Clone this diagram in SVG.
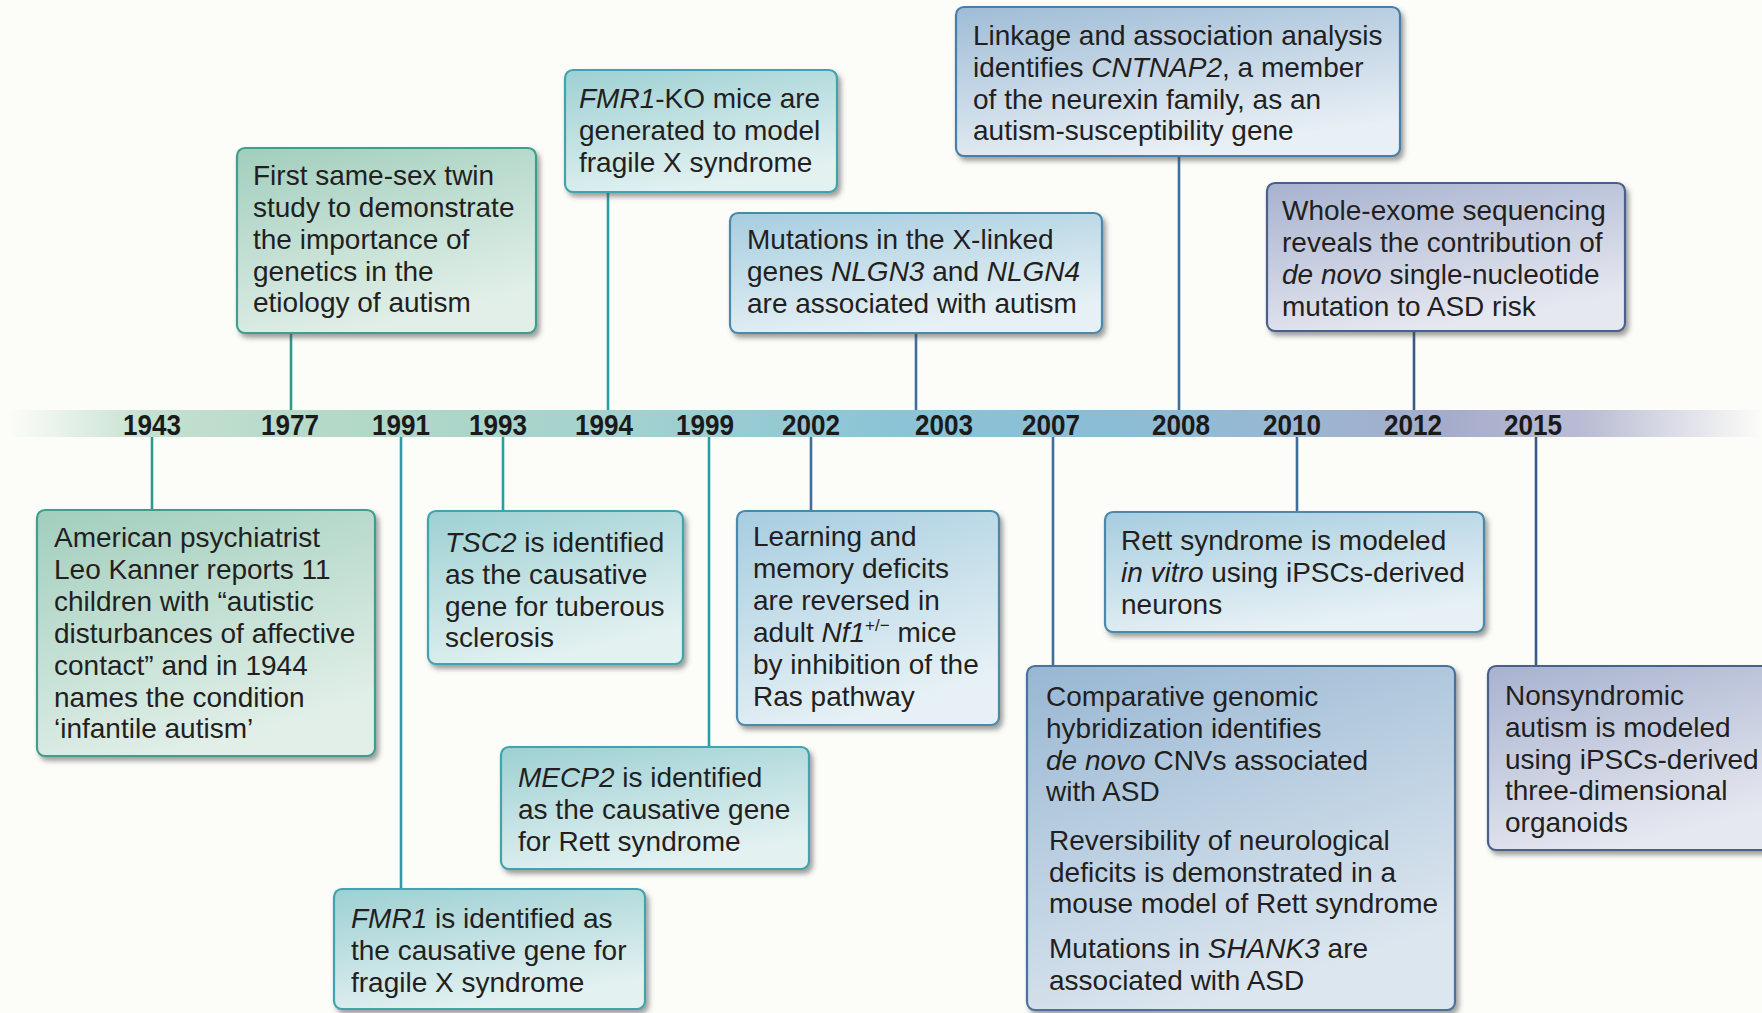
<svg xmlns="http://www.w3.org/2000/svg" width="1762" height="1013" viewBox="0 0 1762 1013">
<defs>
<style>
.t{font-family:"Liberation Sans",Arial,Helvetica,sans-serif;font-size:28px;fill:#231f20}
.i{font-style:italic}
.yr{font-family:"Liberation Sans",Arial,Helvetica,sans-serif;font-size:30px;font-weight:bold;fill:#1a1a1a;text-anchor:middle}
.box{stroke-width:2.2}
.cG{stroke:#2f9a8e;stroke-width:2.6;fill:none}
.cT{stroke:#2a9ea6;stroke-width:2.6;fill:none}
.cB{stroke:#3e6f9a;stroke-width:2.6;fill:none}
.cP{stroke:#3b5a88;stroke-width:2.6;fill:none}
.g{fill:url(#gG);stroke:#3c9f8c}
.tl{fill:url(#gT);stroke:#3fa3ad}
.lb{fill:url(#gL);stroke:#4b88aa}
.mb{fill:url(#gM);stroke:#4a7ea6}
.db{fill:url(#gD);stroke:#47739e}
.pu{fill:url(#gP);stroke:#4a5e8c}
</style>
<filter id="sh" x="-10%" y="-10%" width="125%" height="130%">
<feDropShadow dx="3" dy="4" stdDeviation="2.5" flood-color="#404040" flood-opacity="0.5"/>
</filter>
<linearGradient id="gG" x1="0" y1="0" x2="0.4" y2="1"><stop offset="0" stop-color="#a1cebd"/><stop offset="1" stop-color="#e1efe8"/></linearGradient>
<linearGradient id="gT" x1="0" y1="0" x2="0.4" y2="1"><stop offset="0" stop-color="#9dd0d3"/><stop offset="1" stop-color="#e3f1f1"/></linearGradient>
<linearGradient id="gL" x1="0" y1="0" x2="0.4" y2="1"><stop offset="0" stop-color="#a6cde0"/><stop offset="1" stop-color="#e7f1f5"/></linearGradient>
<linearGradient id="gM" x1="0" y1="0" x2="0.4" y2="1"><stop offset="0" stop-color="#9fbcd6"/><stop offset="1" stop-color="#e8eff5"/></linearGradient>
<linearGradient id="gD" x1="0" y1="0" x2="0.4" y2="1"><stop offset="0" stop-color="#98b7d3"/><stop offset="1" stop-color="#dce6ef"/></linearGradient>
<linearGradient id="gP" x1="0" y1="0" x2="0.4" y2="1"><stop offset="0" stop-color="#a7b2cf"/><stop offset="1" stop-color="#e6e8f0"/></linearGradient>
<linearGradient id="bar" x1="0" y1="0" x2="1" y2="0">
<stop offset="0" stop-color="#fcfcf9"/>
<stop offset="0.08" stop-color="#c4e0d0"/>
<stop offset="0.2" stop-color="#b2d8c7"/>
<stop offset="0.35" stop-color="#a3d2cf"/>
<stop offset="0.5" stop-color="#8cc4d6"/>
<stop offset="0.62" stop-color="#8bbdd6"/>
<stop offset="0.72" stop-color="#98b8d2"/>
<stop offset="0.82" stop-color="#a5accb"/>
<stop offset="0.9" stop-color="#babdd4"/>
<stop offset="1" stop-color="#fcfcf9"/>
</linearGradient>
</defs>
<rect x="0" y="0" width="1762" height="1013" fill="#fcfcf9"/>

<g id="timeline">
<rect x="10" y="410" width="1752" height="27" fill="url(#bar)"/>
<text class="yr" x="152" y="435" textLength="58" lengthAdjust="spacingAndGlyphs">1943</text>
<text class="yr" x="290" y="435" textLength="58" lengthAdjust="spacingAndGlyphs">1977</text>
<text class="yr" x="401" y="435" textLength="58" lengthAdjust="spacingAndGlyphs">1991</text>
<text class="yr" x="498" y="435" textLength="58" lengthAdjust="spacingAndGlyphs">1993</text>
<text class="yr" x="604" y="435" textLength="58" lengthAdjust="spacingAndGlyphs">1994</text>
<text class="yr" x="705" y="435" textLength="58" lengthAdjust="spacingAndGlyphs">1999</text>
<text class="yr" x="811" y="435" textLength="58" lengthAdjust="spacingAndGlyphs">2002</text>
<text class="yr" x="944" y="435" textLength="58" lengthAdjust="spacingAndGlyphs">2003</text>
<text class="yr" x="1051" y="435" textLength="58" lengthAdjust="spacingAndGlyphs">2007</text>
<text class="yr" x="1181" y="435" textLength="58" lengthAdjust="spacingAndGlyphs">2008</text>
<text class="yr" x="1292" y="435" textLength="58" lengthAdjust="spacingAndGlyphs">2010</text>
<text class="yr" x="1413" y="435" textLength="58" lengthAdjust="spacingAndGlyphs">2012</text>
<text class="yr" x="1533" y="435" textLength="58" lengthAdjust="spacingAndGlyphs">2015</text>
</g>

<g id="connectors">
<line class="cG" x1="291" y1="333" x2="291" y2="410"/>
<line class="cT" x1="608" y1="192" x2="608" y2="410"/>
<line class="cB" x1="916" y1="333" x2="916" y2="410"/>
<line class="cB" x1="1179" y1="156" x2="1179" y2="410"/>
<line class="cP" x1="1414" y1="331" x2="1414" y2="410"/>
<line class="cG" x1="152" y1="437" x2="152" y2="510"/>
<line class="cT" x1="503" y1="437" x2="503" y2="511"/>
<line class="cT" x1="709" y1="437" x2="709" y2="747"/>
<line class="cT" x1="401" y1="437" x2="401" y2="889"/>
<line class="cB" x1="811" y1="437" x2="811" y2="511"/>
<line class="cB" x1="1053" y1="437" x2="1053" y2="666"/>
<line class="cB" x1="1297" y1="437" x2="1297" y2="512"/>
<line class="cP" x1="1536" y1="437" x2="1536" y2="666"/>
</g>

<g id="n1977">
<rect class="box g" x="237" y="148" width="299" height="185" rx="8" filter="url(#sh)"/>
<text class="t" x="253" y="185">First same-sex twin</text>
<text class="t" x="253" y="217">study to demonstrate</text>
<text class="t" x="253" y="249">the importance of</text>
<text class="t" x="253" y="281">genetics in the</text>
<text class="t" x="253" y="312">etiology of autism</text>
</g>

<g id="n1994">
<rect class="box tl" x="565" y="70" width="272" height="122" rx="8" filter="url(#sh)"/>
<text class="t" x="579" y="108"><tspan class="i">FMR1</tspan>-KO mice are</text>
<text class="t" x="579" y="140">generated to model</text>
<text class="t" x="579" y="172">fragile X syndrome</text>
</g>

<g id="n2003">
<rect class="box lb" x="730" y="213" width="372" height="120" rx="8" filter="url(#sh)"/>
<text class="t" x="747" y="249">Mutations in the X-linked</text>
<text class="t" x="747" y="281">genes <tspan class="i">NLGN3</tspan> and <tspan class="i">NLGN4</tspan></text>
<text class="t" x="747" y="313">are associated with autism</text>
</g>

<g id="n2008">
<rect class="box mb" x="956" y="7" width="444" height="149" rx="8" filter="url(#sh)"/>
<text class="t" x="973" y="45">Linkage and association analysis</text>
<text class="t" x="973" y="77">identifies <tspan class="i">CNTNAP2</tspan>, a member</text>
<text class="t" x="973" y="109">of the neurexin family, as an</text>
<text class="t" x="973" y="140">autism-susceptibility gene</text>
</g>

<g id="n2012">
<rect class="box pu" x="1267" y="183" width="358" height="148" rx="8" filter="url(#sh)"/>
<text class="t" x="1282" y="220">Whole-exome sequencing</text>
<text class="t" x="1282" y="252">reveals the contribution of</text>
<text class="t" x="1282" y="284"><tspan class="i">de novo</tspan> single-nucleotide</text>
<text class="t" x="1282" y="316">mutation to ASD risk</text>
</g>

<g id="n1943">
<rect class="box g" x="37" y="510" width="338" height="246" rx="8" filter="url(#sh)"/>
<text class="t" x="54" y="547">American psychiatrist</text>
<text class="t" x="54" y="579">Leo Kanner reports 11</text>
<text class="t" x="54" y="611">children with “autistic</text>
<text class="t" x="54" y="643">disturbances of affective</text>
<text class="t" x="54" y="675">contact” and in 1944</text>
<text class="t" x="54" y="707">names the condition</text>
<text class="t" x="54" y="738">‘infantile autism’</text>
</g>

<g id="n1993">
<rect class="box tl" x="428" y="511" width="255" height="153" rx="8" filter="url(#sh)"/>
<text class="t" x="445" y="552"><tspan class="i">TSC2</tspan> is identified</text>
<text class="t" x="445" y="584">as the causative</text>
<text class="t" x="445" y="616">gene for tuberous</text>
<text class="t" x="445" y="647">sclerosis</text>
</g>

<g id="n2002">
<rect class="box lb" x="737" y="511" width="262" height="214" rx="8" filter="url(#sh)"/>
<text class="t" x="753" y="546">Learning and</text>
<text class="t" x="753" y="578">memory deficits</text>
<text class="t" x="753" y="610">are reversed in</text>
<text class="t" x="753" y="642">adult <tspan class="i">Nf1</tspan><tspan font-size="17" dy="-11">+/−</tspan><tspan dy="11"> mice</tspan></text>
<text class="t" x="753" y="674">by inhibition of the</text>
<text class="t" x="753" y="706">Ras pathway</text>
</g>

<g id="n1999">
<rect class="box tl" x="501" y="747" width="308" height="122" rx="8" filter="url(#sh)"/>
<text class="t" x="518" y="787"><tspan class="i">MECP2</tspan> is identified</text>
<text class="t" x="518" y="819">as the causative gene</text>
<text class="t" x="518" y="851">for Rett syndrome</text>
</g>

<g id="n1991">
<rect class="box tl" x="334" y="889" width="311" height="120" rx="8" filter="url(#sh)"/>
<text class="t" x="351" y="928"><tspan class="i">FMR1</tspan> is identified as</text>
<text class="t" x="351" y="960">the causative gene for</text>
<text class="t" x="351" y="992">fragile X syndrome</text>
</g>

<g id="n2010">
<rect class="box lb" x="1105" y="512" width="379" height="120" rx="8" filter="url(#sh)"/>
<text class="t" x="1121" y="550">Rett syndrome is modeled</text>
<text class="t" x="1121" y="582"><tspan class="i">in vitro</tspan> using iPSCs-derived</text>
<text class="t" x="1121" y="614">neurons</text>
</g>

<g id="n2007">
<rect class="box db" x="1027" y="666" width="428" height="344" rx="8" filter="url(#sh)"/>
<text class="t" x="1046" y="706">Comparative genomic</text>
<text class="t" x="1046" y="738">hybridization identifies</text>
<text class="t" x="1046" y="770"><tspan class="i">de novo</tspan> CNVs associated</text>
<text class="t" x="1046" y="801">with ASD</text>
<text class="t" x="1049" y="850">Reversibility of neurological</text>
<text class="t" x="1049" y="882">deficits is demonstrated in a</text>
<text class="t" x="1049" y="913">mouse model of Rett syndrome</text>
<text class="t" x="1049" y="958">Mutations in <tspan class="i">SHANK3</tspan> are</text>
<text class="t" x="1049" y="990">associated with ASD</text>
</g>

<g id="n2015">
<rect class="box pu" x="1488" y="666" width="300" height="184" rx="8" filter="url(#sh)"/>
<text class="t" x="1505" y="705">Nonsyndromic</text>
<text class="t" x="1505" y="737">autism is modeled</text>
<text class="t" x="1505" y="769">using iPSCs-derived</text>
<text class="t" x="1505" y="800">three-dimensional</text>
<text class="t" x="1505" y="832">organoids</text>
</g>
</svg>
